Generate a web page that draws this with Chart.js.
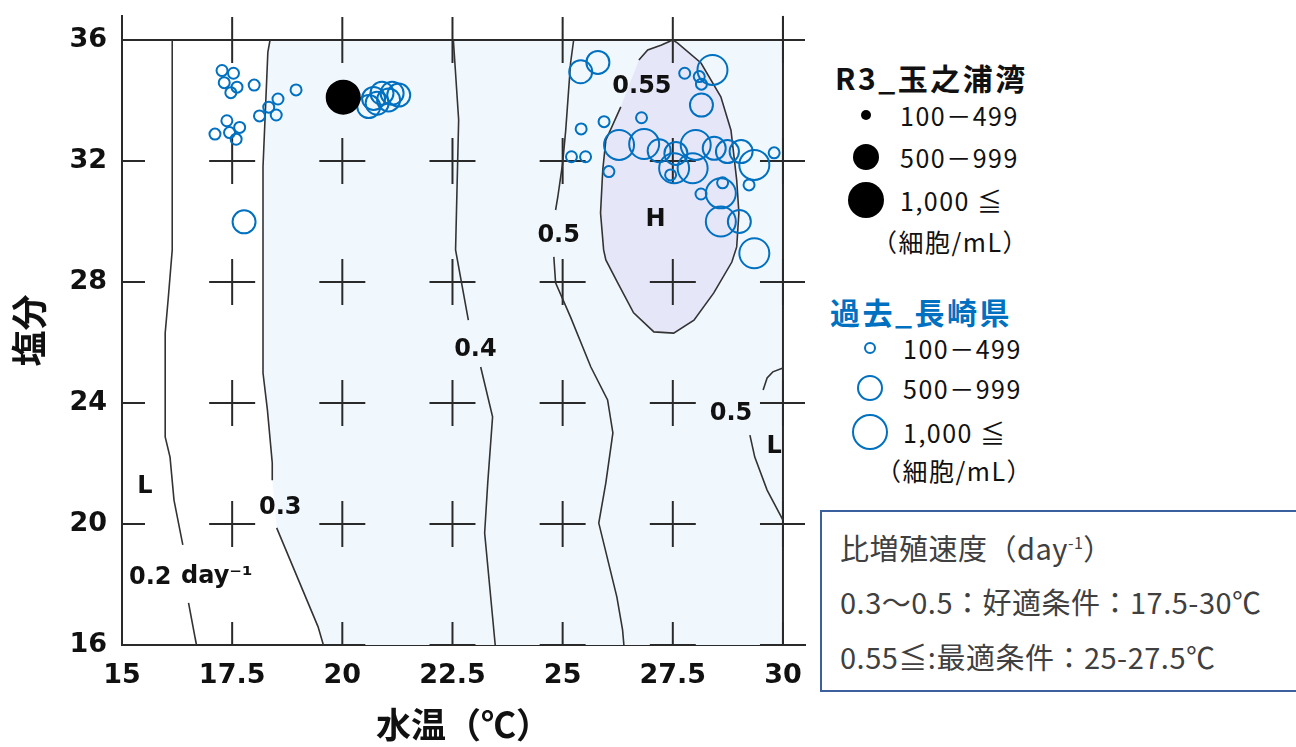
<!DOCTYPE html>
<html lang="ja">
<head>
<meta charset="utf-8">
<title>水温・塩分と比増殖速度</title>
<script src="https://cdn.jsdelivr.net/npm/chart.js@4.4.1/dist/chart.umd.min.js"></script>
<style>
  html, body { margin: 0; padding: 0; background: #fff; }
  body { width: 1296px; height: 747px; position: relative; overflow: hidden;
         font-family: "Noto Sans CJK JP", "Noto Sans", sans-serif; }
  #wrap { position: absolute; left: 0; top: 0; width: 830px; height: 747px; }
  .lg { position: absolute; white-space: nowrap; line-height: 1; color: #111; }
  .ttl { font-weight: bold; font-size: 30px; letter-spacing: 2.5px; }
  .itm { font-size: 25px; letter-spacing: 1.5px; }
  .dot { position: absolute; border-radius: 50%; box-sizing: border-box; }
  #note { position: absolute; left: 820px; top: 510px; width: 520px; height: 182px;
          box-sizing: border-box; border: 2px solid #3c5f9e; background: #fff; }
  #note div { position: absolute; left: 18px; font-size: 29px; letter-spacing: 0.5px; color: #404040;
              white-space: nowrap; line-height: 1; }
  #note sup { font-size: 16px; }
</style>
</head>
<body>
<div id="wrap"><canvas id="chart"></canvas></div>

<div class="lg ttl" style="left:835px;top:62px;">R3_玉之浦湾</div>
<div class="dot" style="left:861px;top:110px;width:10px;height:10px;background:#000;"></div>
<div class="lg itm" style="left:900px;top:103px;">100－499</div>
<div class="dot" style="left:853px;top:144px;width:26px;height:26px;background:#000;"></div>
<div class="lg itm" style="left:900px;top:145px;">500－999</div>
<div class="dot" style="left:848px;top:182px;width:36px;height:36px;background:#000;"></div>
<div class="lg itm" style="left:900px;top:188px;">1,000 ≦</div>
<div class="lg itm" style="left:872px;top:229px;">（細胞/mL）</div>

<div class="lg ttl" style="left:830px;top:296px;color:#0070c0;">過去_長崎県</div>
<div class="dot" style="left:864px;top:342px;width:12px;height:12px;border:2px solid #0070c0;"></div>
<div class="lg itm" style="left:903px;top:336px;">100－499</div>
<div class="dot" style="left:857px;top:375px;width:26px;height:26px;border:2px solid #0070c0;"></div>
<div class="lg itm" style="left:903px;top:376px;">500－999</div>
<div class="dot" style="left:852px;top:414px;width:36px;height:36px;border:2px solid #0070c0;"></div>
<div class="lg itm" style="left:903px;top:420px;">1,000 ≦</div>
<div class="lg itm" style="left:876px;top:458px;">（細胞/mL）</div>

<div id="note">
  <div style="top:21px;">比増殖速度（day<sup>-1</sup>）</div>
  <div style="top:75px;">0.3～0.5：好適条件：17.5-30℃</div>
  <div style="top:130px;">0.55≦:最適条件：25-27.5℃</div>
</div>

<script>
!(function () {
  "use strict";

  // axis ticks
  var xTicks = [15, 17.5, 20, 22.5, 25, 27.5, 30];
  var yTicks = [16, 20, 24, 28, 32, 36];

  // R3 玉之浦湾 (細胞/mL)
  var r3Small = [];
  var r3Mid = [];
  var r3Large = [[20.02, 34.11]];

  // 過去 長崎県 (細胞/mL)
  var pastSmall = [
    [17.27, 34.99], [17.53, 34.90], [17.32, 34.59], [17.61, 34.44], [17.47, 34.26],
    [18.0, 34.51], [18.95, 34.35], [18.54, 34.05], [18.33, 33.78], [18.12, 33.49],
    [18.5, 33.52], [17.38, 33.33], [17.67, 33.11], [17.11, 32.89], [17.44, 32.94],
    [17.59, 32.72],
    [25.42, 33.06], [25.94, 33.30], [26.79, 33.43], [27.77, 34.90], [28.10, 34.79],
    [28.15, 34.54], [25.20, 32.14], [25.52, 32.14], [26.05, 31.65], [27.45, 31.54],
    [29.80, 32.27], [29.23, 31.21], [28.63, 31.28], [28.14, 30.91]
  ];
  var pastMid = [
    [25.41, 34.95], [25.80, 35.26], [28.15, 33.85], [27.19, 32.34], [27.57, 32.25],
    [28.44, 32.42], [28.74, 32.31], [29.05, 32.31], [29.01, 30.0], [17.77, 29.99],
    [20.71, 34.07], [20.90, 34.24], [21.13, 34.24], [21.28, 34.18], [20.79, 33.91],
    [21.05, 34.02], [20.60, 33.80]
  ];
  var pastLarge = [
    [28.40, 35.01], [26.28, 32.53], [26.85, 32.56], [28.02, 32.53], [27.53, 31.76],
    [27.95, 31.76], [29.35, 31.87], [28.59, 30.93], [28.59, 30.0], [29.35, 28.95]
  ];

  // 比増殖速度の等値線 (day-1), pieces broken at the labels
  var c02a = [[16.14, 36], [16.14, 29.06], [16.05, 27.47], [15.98, 26.31], [15.98, 22.88],
    [16.09, 22.21], [16.18, 20.79], [16.38, 19.31]];
  var c02b = [[16.51, 17.39], [16.69, 16]];
  var c03a = [[18.36, 36], [18.31, 35.6], [18.20, 31.80], [18.20, 24.99], [18.30, 23.77],
    [18.41, 22.02], [18.41, 21.45]];
  var c03b = [[18.51, 19.87], [19.45, 16.60], [19.57, 16]];
  var c04a = [[22.52, 36], [22.64, 33.36], [22.57, 29.06], [22.86, 26.74]];
  var c04b = [[23.14, 25.19], [23.41, 23.54], [23.30, 21.36], [23.23, 19.70], [23.47, 16]];
  var c05a = [[25.25, 36], [25.18, 35.24], [25.07, 33.02], [25.0, 31.93], [24.89, 30.81],
    [24.84, 30.38]];
  var c05b = [[24.80, 28.83], [24.84, 27.97], [25.18, 26.84], [25.64, 25.19], [26.02, 24.10],
    [26.14, 23.01], [25.98, 21.36], [25.82, 20.03], [26.23, 17.59], [26.36, 16.50], [26.39, 16]];
  var c05c = [[30, 25.16], [29.77, 25.03], [29.64, 24.83], [29.55, 24.43]];
  var c05d = [[29.25, 22.94], [29.36, 22.21], [29.64, 21.12], [30, 20.13]];
  var c055 = [[26.32, 33.79], [25.98, 32.69], [25.91, 31.70], [25.86, 30.28], [25.93, 29.06],
    [25.98, 28.73], [26.25, 27.97], [26.61, 26.98], [27.07, 26.35], [27.52, 26.31],
    [27.98, 26.74], [28.43, 27.64], [28.84, 28.66], [28.95, 29.16], [29.0, 30.28],
    [28.95, 31.37], [28.82, 33.02], [28.59, 34.12], [28.14, 35.24], [27.61, 35.90],
    [27.5, 36], [27.23, 35.83], [26.93, 35.67], [26.73, 35.34]];

  // contour labels
  var labels = [
    { t: "L", x: 15.52, y: 21.22 },
    { t: "0.2", x: 15.64, y: 18.21 },
    { t: "day⁻¹", x: 16.34, y: 18.25, align: "left" },
    { t: "0.3", x: 18.59, y: 20.53 },
    { t: "0.4", x: 23.02, y: 25.75 },
    { t: "0.5", x: 24.91, y: 29.52 },
    { t: "0.55", x: 26.80, y: 34.45 },
    { t: "H", x: 27.11, y: 30.05 },
    { t: "0.5", x: 28.82, y: 23.64 },
    { t: "L", x: 29.80, y: 22.55 }
  ];

  var regions = [
    { pts: c03a.concat(c03b, [[30, 16], [30, 36]]), color: "#f0f8fe" },
    { pts: c055, color: "#e6e6f9" }
  ];

  function xy(a) {
    return a.map(function (p) { return { x: p[0], y: p[1] }; });
  }
  function line(a) {
    return { data: xy(a), showLine: true, pointRadius: 0, borderColor: "#333",
      borderWidth: 1.6, order: 5, clip: 0 };
  }
  function circles(a, r, fill, stroke) {
    return { data: xy(a), showLine: false, pointRadius: r, pointHoverRadius: r,
      pointBackgroundColor: fill, pointBorderColor: stroke, pointBorderWidth: 2,
      order: 1, clip: 0 };
  }

  var grid = [];
  xTicks.forEach(function (x) { yTicks.forEach(function (y) { grid.push([x, y]); }); });

  var regionPlugin = {
    id: "regions",
    beforeDatasetsDraw: function (chart) {
      var ctx = chart.ctx, a = chart.chartArea, sx = chart.scales.x, sy = chart.scales.y;
      ctx.save();
      ctx.beginPath();
      ctx.rect(a.left, a.top, a.right - a.left, a.bottom - a.top);
      ctx.clip();
      regions.forEach(function (r) {
        ctx.beginPath();
        r.pts.forEach(function (p, i) {
          var px = sx.getPixelForValue(p[0]), py = sy.getPixelForValue(p[1]);
          i ? ctx.lineTo(px, py) : ctx.moveTo(px, py);
        });
        ctx.closePath();
        ctx.fillStyle = r.color;
        ctx.fill();
      });
      ctx.restore();
    },
    afterDatasetsDraw: function (chart) {
      var ctx = chart.ctx, sx = chart.scales.x, sy = chart.scales.y;
      ctx.save();
      ctx.fillStyle = "#111";
      ctx.font = 'bold 24px "DejaVu Sans"';
      ctx.textBaseline = "middle";
      labels.forEach(function (l) {
        ctx.textAlign = l.align || "center";
        ctx.fillText(l.t, sx.getPixelForValue(l.x), sy.getPixelForValue(l.y));
      });
      ctx.restore();
    }
  };

  var tickFont = { family: "DejaVu Sans", weight: "bold", size: 27 };

  new Chart(document.getElementById("chart"), {
    type: "scatter",
    data: {
      datasets: [
        circles(r3Large, 16.5, "#000", "#000"),
        circles(r3Mid, 12, "#000", "#000"),
        circles(r3Small, 5, "#000", "#000"),
        circles(pastLarge, 15, "rgba(0,0,0,0)", "#0070c0"),
        circles(pastMid, 11.5, "rgba(0,0,0,0)", "#0070c0"),
        circles(pastSmall, 5.5, "rgba(0,0,0,0)", "#0070c0"),
        line(c02a), line(c02b), line(c03a), line(c03b), line(c04a), line(c04b),
        line(c05a), line(c05b), line(c05c), line(c05d), line(c055),
        { data: xy(grid), showLine: false, pointStyle: "cross", pointRadius: 23,
          pointHoverRadius: 23, pointBorderColor: "#2a2a2a", pointBorderWidth: 2,
          order: 8, clip: 0 },
        { data: xy([[15, 36], [30.5, 36]]), showLine: true, pointRadius: 0,
          borderColor: "#2a2a2a", borderWidth: 2, order: 7, clip: 0 },
        { data: xy([[30, 16], [30, 36.8]]), showLine: true, pointRadius: 0,
          borderColor: "#2a2a2a", borderWidth: 2, order: 7, clip: 0 }
      ]
    },
    options: {
      responsive: true,
      maintainAspectRatio: false,
      animation: false,
      events: [],
      layout: { autoPadding: false, padding: { left: 0, right: 25, top: 15.8, bottom: 0 } },
      plugins: { legend: { display: false }, tooltip: { enabled: false } },
      scales: {
        x: {
          type: "linear", min: 15, max: 30.5,
          afterBuildTicks: function (s) { s.ticks = xTicks.map(function (v) { return { value: v }; }); },
          afterFit: function (s) { s.height = 102; },
          grid: { display: false, drawTicks: false },
          border: { display: true, color: "#2a2a2a", width: 2 },
          ticks: { padding: 15, color: "#111", font: tickFont, maxRotation: 0 },
          title: { display: true, text: "水温（℃）", color: "#111",
            font: { family: "Noto Sans CJK JP", weight: "bold", size: 35 },
            padding: { top: 0, bottom: 1 } }
        },
        y: {
          type: "linear", min: 16, max: 36.8,
          afterBuildTicks: function (s) { s.ticks = yTicks.map(function (v) { return { value: v }; }); },
          afterFit: function (s) { s.width = 122; s.paddingTop = 0; s.paddingBottom = 0; },
          grid: { display: false, drawTicks: false },
          border: { display: true, color: "#2a2a2a", width: 2 },
          ticks: { padding: 15, color: "#111", font: tickFont },
          title: { display: true, text: "塩分", color: "#111",
            font: { family: "Noto Sans CJK JP", weight: "bold", size: 36 },
            padding: { top: 8, bottom: 0 } }
        }
      }
    },
    plugins: [regionPlugin]
  });
})();
</script>
</body>
</html>
